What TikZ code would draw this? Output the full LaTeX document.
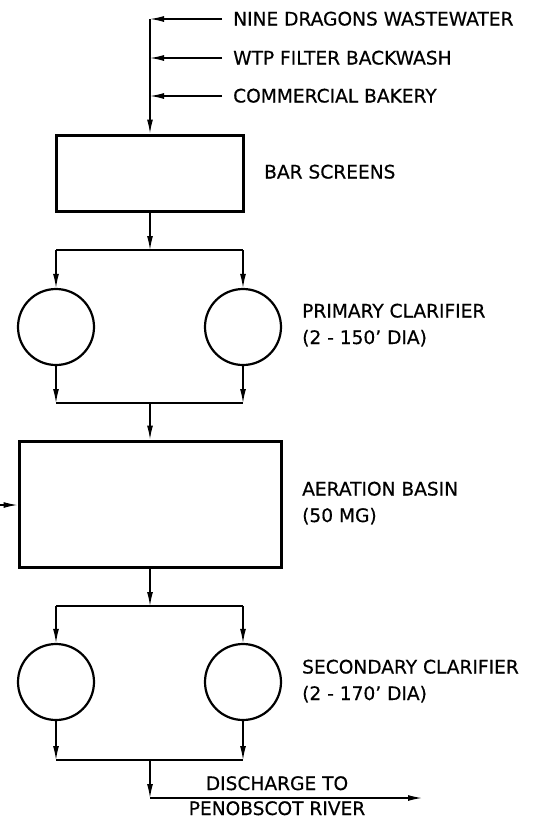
\documentclass[tikz,border=0pt]{standalone}
\usepackage{fontspec}
\setmainfont{DejaVu Sans}[FakeBold=0.5]
\usetikzlibrary{arrows.meta}

\begin{document}
\begin{tikzpicture}[x=1pt,y=-1pt,>={Latex[length=14pt,width=6pt]},
        flow/.style={line width=1.3pt},
        tank/.style={draw,line width=3pt,inner sep=0pt},
        clar/.style={draw,circle,line width=2.2pt,minimum size=76pt,inner sep=0pt},
        lbl/.style={anchor=base west,align=left,inner sep=0pt,
                font=\fontsize{18.6}{26.5}\selectfont}]
        \useasboundingbox (0,0) rectangle (538,820);

        % draw the tanks
        \node[tank,minimum width=187pt,minimum height=76pt] (bar) at (150,173) {};
        \node[tank,minimum width=262pt,minimum height=126pt] (aer) at (150,504) {};

        % draw the clarifiers
        \foreach \name/\y in {p/327,s/682} {
                \node[clar] (\name1) at (56,\y) {};
                \node[clar] (\name2) at (243,\y) {};
        }

        % draw the incoming flows
        \foreach \y/\txt [count=\i] in {
            19/NINE DRAGONS WASTEWATER,
            58/WTP FILTER BACKWASH,
            96/COMMERCIAL BAKERY} {
                \node[lbl] (in\i) at (233,\y+6.5) {\txt};
                \coordinate (m\i) at (150,\y);
                \draw[flow,->] (222,\y) -- (m\i);
        }
        \draw[flow,->] (m1) -- (bar.north);

        % split and join points
        \coordinate (sp1) at (150,250);
        \coordinate (jn1) at (150,403);
        \coordinate (sp2) at (150,606);
        \coordinate (jn2) at (150,760);
        \draw[flow,->] (bar.south) -- (sp1);
        \draw[flow,->] (jn1) -- (aer.north);
        \draw[flow,->] (aer.south) -- (sp2);

        %draw flow through each pair of clarifiers
        \foreach \name/\k in {p/1,s/2} {
                \draw[flow] (\name1.north |- sp\k) -- (\name2.north |- sp\k);
                \draw[flow] (\name1.south |- jn\k) -- (\name2.south |- jn\k);
                \foreach \j in {1,2} {
                        \draw[flow,->] (\name\j.north |- sp\k) -- (\name\j.north);
                        \draw[flow,->] (\name\j.south) -- (\name\j.south |- jn\k);
                }
        }

        % side inflow to the basin
        \coordinate (air) at (0,505);
        \draw[flow,->] (air) -- (aer.west |- air);

        % discharge
        \coordinate (bend) at (150,798);
        \coordinate (out) at (422,798);
        \draw[flow,->] (jn2) -- (bend);
        \draw[flow,->] (bend) -- (out);

        % draw the labels (base is the last line)
        \node[lbl] (barlbl) at (264,178.5) {BAR SCREENS};
        \node[lbl] (plbl) at (302,344) {PRIMARY CLARIFIER\\(2 - 150' DIA)};
        \node[lbl] (albl) at (302,522) {AERATION BASIN\\(50 MG)};
        \node[lbl] (slbl) at (302,700) {SECONDARY CLARIFIER\\(2 - 170' DIA)};
        \node[lbl,anchor=base,align=center,font=\fontsize{18.6}{25}\selectfont] (dis)
                at (277,815) {DISCHARGE TO\\PENOBSCOT RIVER};
\end{tikzpicture}
\end{document}
